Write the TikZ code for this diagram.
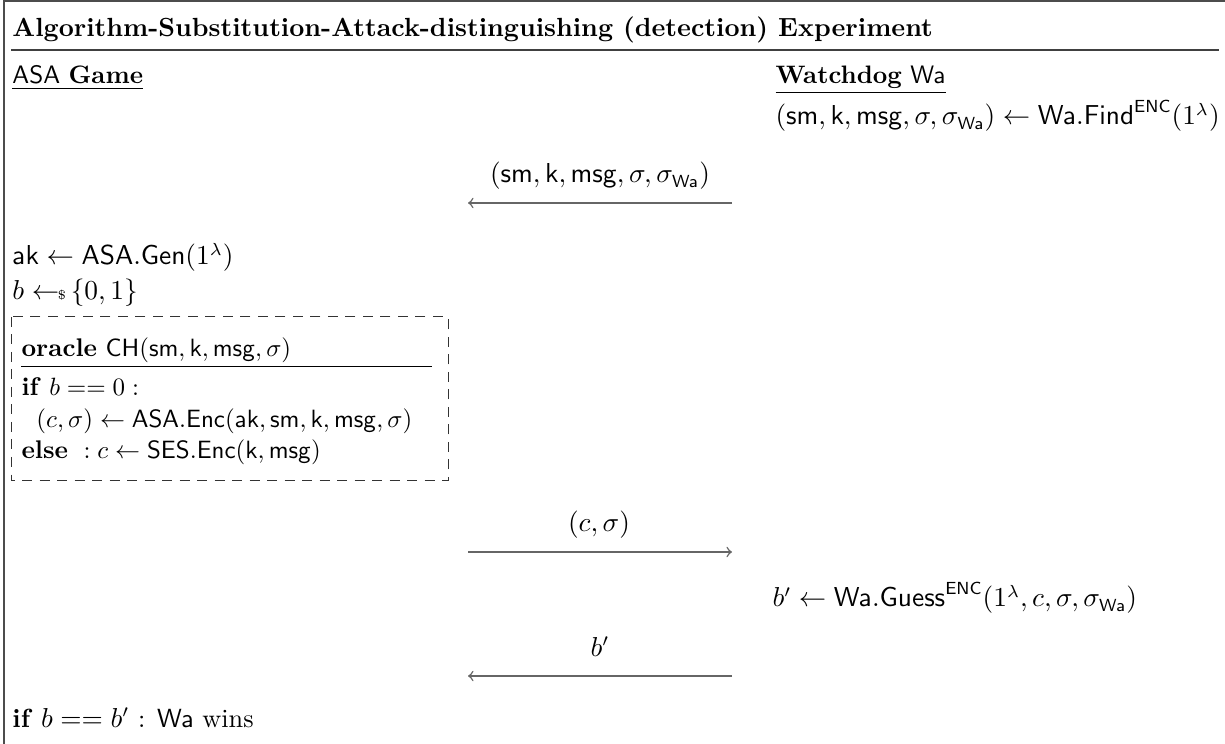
\documentclass[tikz,border=0pt]{standalone}
\usepackage{amsmath,amssymb}
\newcommand{\sfm}[1]{\mathsf{#1}}
\newcommand{\smp}{\leftarrow\!\!\mbox{\tiny\$}\,}
\begin{document}
\begin{tikzpicture}[x=0.4pt,y=-0.4pt,
  txt/.style={anchor=base west, inner sep=0pt, font=\fontsize{10.5}{13}\selectfont},
  boxtxt/.style={anchor=base west, inner sep=0pt, font=\fontsize{10.2}{12}\selectfont},
  head/.style={anchor=base west, inner sep=0pt, font=\fontsize{10.1}{12}\selectfont},
  lbl/.style={anchor=base, inner sep=0pt, font=\fontsize{10.5}{13}\selectfont},
  frame/.style={draw=black!70, line width=0.6pt},
  msgarrow/.style={draw=black!60, line width=0.6pt, ->},
  oraclebox/.style={draw=black!80, line width=0.4pt, dash pattern=on 4pt off 3pt}]
\useasboundingbox (0,0) rectangle (1225,744);

% outer frame and title
\draw[frame] (4,1) -- (1225,1);
\draw[frame] (4,0) -- (4,744);
\node[anchor=base west, inner sep=0pt, font=\fontsize{10.5}{13}\selectfont\bfseries] (title) at (12,37)
  {Algorithm-Substitution-Attack-distinguishing (detection) Experiment};
\draw[draw=black!75, line width=0.8pt] (11,50) -- (1219,50);

% party headings
\node[head] (game) at (12,84) {\underline{\textsf{ASA} \textbf{Game}}};
\node[head] (wd) at (775,84) {\underline{\textbf{Watchdog} \textsf{Wa}}};

% watchdog find step
\node[txt] (find) at (775,125)
  {$(\sfm{sm},\sfm{k},\sfm{msg},\sigma,\sigma_{\sfm{Wa}}) \leftarrow \sfm{Wa}.\sfm{Find}^{\sfm{ENC}}(1^\lambda)$};

% first message
\node[lbl] (m1) at (600,183) {$(\sfm{sm},\sfm{k},\sfm{msg},\sigma,\sigma_{\sfm{Wa}})$};
\coordinate (m1r) at (732,203);
\coordinate (m1l) at (468,203);
\draw[msgarrow] (m1r) -- (m1l);

% game setup
\node[txt] (gen) at (12,265) {$\sfm{ak} \leftarrow \sfm{ASA}.\sfm{Gen}(1^\lambda)$};
\node[txt] (bit) at (12,300) {$b \smp \{0,1\}$};

% oracle
\draw[oraclebox] (11,317) rectangle (448,481);
\node[boxtxt] (orc) at (21,357) {\textbf{oracle} $\sfm{CH}(\sfm{sm},\sfm{k},\sfm{msg},\sigma)$};
\draw[line width=0.4pt] (21,367) -- (432,367);
\node[boxtxt] (if0) at (21,396) {\textbf{if} $b == 0:$};
\node[boxtxt] (enc) at (36,428) {$(c,\sigma) \leftarrow \sfm{ASA}.\sfm{Enc}(\sfm{ak},\sfm{sm},\sfm{k},\sfm{msg},\sigma)$};
\node[boxtxt] (els) at (21,459) {\textbf{else} $\;: c \leftarrow \sfm{SES}.\sfm{Enc}(\sfm{k},\sfm{msg})$};

% second message
\node[lbl] (m2) at (599,532) {$(c,\sigma)$};
\coordinate (m2l) at (468,552);
\coordinate (m2r) at (732,552);
\draw[msgarrow] (m2l) -- (m2r);

% watchdog guess
\node[txt] (guess) at (772,607)
  {$b' \leftarrow \sfm{Wa}.\sfm{Guess}^{\sfm{ENC}}(1^\lambda,c,\sigma,\sigma_{\sfm{Wa}})$};

% third message
\node[lbl] (m3) at (600,656) {$b'$};
\coordinate (m3r) at (732,676);
\coordinate (m3l) at (468,676);
\draw[msgarrow] (m3r) -- (m3l);

% verdict
\node[txt] (win) at (12,727) {\textbf{if} $b == b'$ : \textsf{Wa} wins};
\end{tikzpicture}
\end{document}
